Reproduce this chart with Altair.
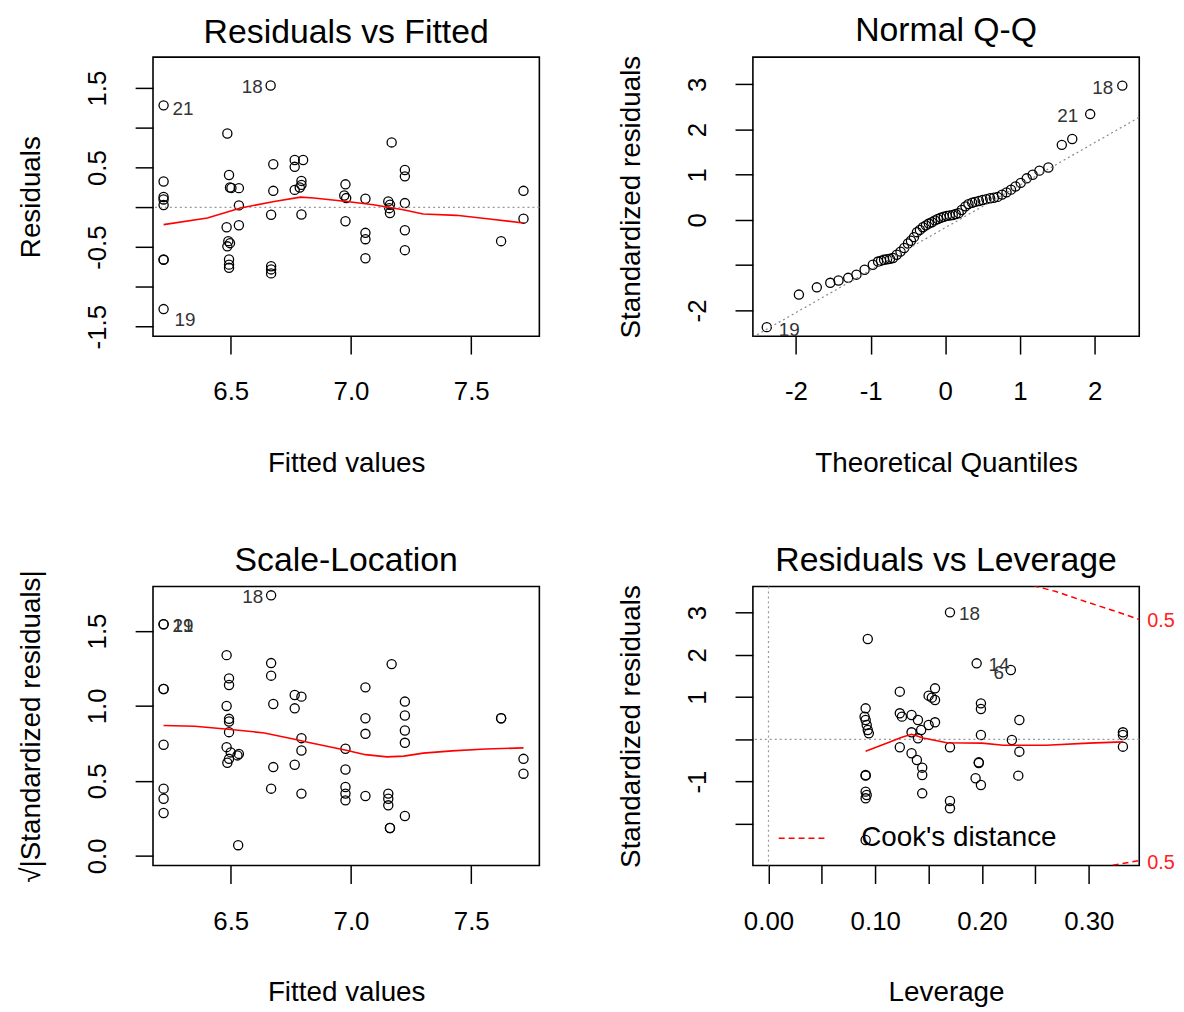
import altair as alt
import pandas as pd

FONT = "Liberation Sans"
W, H = 389, 281
ROWGAP, COLGAP = 252, 215

# ---------------- Panel 1: Residuals vs Fitted ----------------
fitted1 = [6.221, 6.221, 6.221, 6.221, 6.221, 6.221, 6.221, 6.221, 6.666, 6.486,
           6.493, 6.497, 6.503, 6.534, 6.534, 6.483, 6.534, 6.490, 6.497, 6.486,
           6.493, 6.493, 6.493, 6.677, 6.677, 6.668, 6.668, 6.668, 6.668, 6.766,
           6.801, 6.766, 6.794, 6.794, 6.787, 6.766, 6.794, 6.977, 6.972, 6.980,
           6.977, 7.060, 7.060, 7.060, 7.060, 7.169, 7.155, 7.162, 7.159, 7.162,
           7.224, 7.224, 7.224, 7.224, 7.224, 7.624, 7.717, 7.717]
resid1 = [1.283, -1.279, 0.325, 0.13, 0.10, 0.03, -0.654, -0.66, 1.533, 0.929,
          0.408, 0.25, 0.245, 0.242, 0.025, -0.25, -0.225, -0.425, -0.45, -0.49,
          -0.654, -0.72, -0.76, 0.542, 0.208, -0.092, -0.74, -0.78, -0.83, 0.596,
          0.596, 0.51, 0.333, 0.283, 0.25, 0.22, -0.09, 0.29, 0.15, 0.117,
          -0.175, 0.108, -0.32, -0.40, -0.64, 0.817, 0.075, 0.033, -0.01, -0.07,
          0.47, 0.39, 0.054, -0.288, -0.538, -0.425, 0.208, -0.142]
smooth1_x = [6.221, 6.403, 6.541, 6.681, 6.790, 6.845, 6.983, 7.093, 7.217, 7.300, 7.438, 7.576, 7.717]
smooth1_y = [-0.217, -0.133, -0.008, 0.075, 0.129, 0.117, 0.075, 0.033, -0.029, -0.083, -0.100, -0.146, -0.196]
lab1_text = ["21", "19", "18"]
lab1_x = [6.221, 6.221, 6.666]
lab1_y = [1.283, -1.279, 1.533]

# ---------------- Panel 2: Normal Q-Q ----------------
theo2 = [-2.39, -1.96, -1.72, -1.54, -1.43, -1.30, -1.19, -1.08, -0.97, -0.90,
         -0.86, -0.82, -0.78, -0.74, -0.70, -0.65, -0.60, -0.55, -0.50, -0.46,
         -0.42, -0.38, -0.34, -0.30, -0.26, -0.22, -0.18, -0.14, -0.10, -0.06,
         -0.02, 0.02, 0.06, 0.10, 0.14, 0.18, 0.22, 0.27, 0.31, 0.36,
         0.40, 0.45, 0.50, 0.55, 0.60, 0.65, 0.70, 0.76, 0.82, 0.88,
         0.94, 1.01, 1.09, 1.17, 1.26, 1.38, 1.56, 1.70, 1.94, 2.37]
std2 = [-2.37, -1.65, -1.49, -1.39, -1.34, -1.28, -1.21, -1.10, -0.99, -0.92,
        -0.90, -0.88, -0.87, -0.86, -0.84, -0.77, -0.70, -0.62, -0.52, -0.46,
        -0.38, -0.27, -0.22, -0.16, -0.12, -0.08, -0.05, -0.01, 0.02, 0.05,
        0.07, 0.09, 0.10, 0.11, 0.13, 0.15, 0.22, 0.30, 0.35, 0.38,
        0.40, 0.42, 0.44, 0.46, 0.48, 0.49, 0.51, 0.56, 0.61, 0.67,
        0.74, 0.82, 0.92, 1.00, 1.09, 1.16, 1.66, 1.79, 2.34, 2.97]
qqline_x = [-2.576, 2.597]
qqline_y = [-2.59, 2.27]
lab2_text = ["19", "21", "18"]
lab2_x = [-2.39, 1.94, 2.37]
lab2_y = [-2.37, 2.34, 2.97]

# ---------------- Panel 3: Scale-Location ----------------
fitted3 = [6.668, 6.221, 6.221, 6.221, 6.221, 6.221, 6.221, 6.221, 6.221, 6.483,
           6.493, 6.493, 6.483, 6.493, 6.493, 6.493, 6.483, 6.500, 6.528, 6.493,
           6.534, 6.486, 6.531, 6.668, 6.668, 6.677, 6.677, 6.668, 6.766, 6.794,
           6.766, 6.794, 6.794, 6.766, 6.794, 6.977, 6.977, 6.977, 6.977, 6.977,
           7.060, 7.060, 7.060, 7.060, 7.169, 7.155, 7.155, 7.155, 7.162, 7.162,
           7.224, 7.224, 7.224, 7.224, 7.224, 7.624, 7.624, 7.717, 7.717]
sqrt3 = [1.738, 1.545, 1.545, 1.113, 1.113, 0.741, 0.448, 0.381, 0.286, 1.339,
         1.184, 1.140, 1.000, 0.914, 0.896, 0.825, 0.725, 0.690, 0.670, 0.647,
         0.680, 0.621, 0.071, 1.286, 1.202, 1.013, 0.592, 0.448, 1.073, 1.062,
         0.984, 0.785, 0.703, 0.608, 0.415, 0.714, 0.576, 0.459, 0.415, 0.370,
         1.124, 0.918, 0.814, 0.399, 1.279, 0.415, 0.381, 0.337, 0.186, 0.186,
         1.029, 0.936, 0.836, 0.754, 0.266, 0.918, 0.918, 0.647, 0.548]
smooth3_x = [6.221, 6.350, 6.490, 6.640, 6.760, 6.830, 6.980, 7.060, 7.150, 7.220, 7.300, 7.420, 7.560, 7.717]
smooth3_y = [0.870, 0.865, 0.845, 0.820, 0.780, 0.755, 0.705, 0.675, 0.660, 0.665, 0.685, 0.700, 0.713, 0.720]
lab3_text = ["18", "21", "19"]
lab3_x = [6.668, 6.221, 6.221]
lab3_y = [1.738, 1.545, 1.545]

# ---------------- Panel 4: Residuals vs Leverage ----------------
lev4 = [0.170, 0.093, 0.195, 0.227, 0.123, 0.156, 0.150, 0.156, 0.153, 0.091,
        0.090, 0.091, 0.092, 0.093, 0.094, 0.123, 0.125, 0.134, 0.140, 0.143,
        0.150, 0.156, 0.134, 0.140, 0.199, 0.199, 0.199, 0.235, 0.228, 0.235,
        0.332, 0.332, 0.332, 0.123, 0.134, 0.139, 0.144, 0.144, 0.144, 0.170,
        0.170, 0.170, 0.091, 0.091, 0.091, 0.092, 0.091, 0.197, 0.197, 0.194,
        0.199, 0.234, 0.091]
std4 = [3.007, 2.376, 1.800, 1.642, 1.129, 1.208, 1.034, 0.931, 0.987, 0.734,
        0.537, 0.458, 0.339, 0.221, 0.142, 0.616, 0.537, 0.576, 0.458, 0.221,
        0.339, 0.403, 0.166, 0.024, 0.852, 0.718, 0.103, 0.458, -0.016, -0.292,
        0.166, 0.103, -0.174, -0.189, -0.331, -0.489, -0.671, -0.845, -1.279, -0.189,
        -1.460, -1.634, -0.845, -0.860, -1.239, -1.318, -1.397, -0.545, -0.560, -0.923,
        -1.081, -0.860, -2.384]
smooth4_x = [0.091, 0.110, 0.125, 0.134, 0.145, 0.167, 0.200, 0.220, 0.260, 0.300, 0.332]
smooth4_y = [-0.28, -0.10, 0.05, 0.12, 0.03, -0.08, -0.09, -0.14, -0.14, -0.09, -0.06]
cook_x = [0.2479, 0.2693, 0.2973, 0.3253, 0.3473, 0.3225, 0.3473]
cook_y = [3.64, 3.50, 3.26, 3.03, 2.84, -2.98, -2.87]
cook_seg = ["upper", "upper", "upper", "upper", "upper", "lower", "lower"]
cook_lab_text = ["0.5", "0.5"]
cook_lab_x = [0.3473, 0.3473]
cook_lab_y = [2.80, -2.93]
lab4_text = ["18", "14", "6"]
lab4_x = [0.170, 0.195, 0.195]
lab4_y = [3.007, 1.800, 1.800]

# axis tick values / which are labelled
p1_xticks = [6.5, 7.0, 7.5]
p1_yticks = [-1.5, -1.0, -0.5, 0.0, 0.5, 1.0, 1.5]
p1_ylab = [1.5, 0.5, -0.5, -1.5]
p2_xticks = [-2, -1, 0, 1, 2]
p2_yticks = [-2, -1, 0, 1, 2, 3]
p2_ylab = [3, 2, 1, 0, -2]
p3_yticks = [0.0, 0.5, 1.0, 1.5]
p4_xticks = [0.0, 0.05, 0.1, 0.15, 0.2, 0.25, 0.3]
p4_xlab = [0.0, 0.1, 0.2, 0.3]
p4_yticks = [-3, -2, -1, 0, 1, 2, 3]
p4_ylab = [3, 2, 1, -1, -3]


def lab_expr(shown, fmt):
    arr = ",".join(repr(v) for v in shown)
    return ("indexof([%s], datum.value) >= 0 ? replace(format(datum.value, '%s'), '\u2212', '-') : ''"
            % (arr, fmt))


def xaxis(title, values, shown, fmt):
    return alt.Axis(title=title, values=values, labelExpr=lab_expr(shown, fmt),
                    labelBaseline="alphabetic", labelPadding=46,
                    titleBaseline="alphabetic", titleAlign="center",
                    titleX=W / 2, titleY=136)


def yaxis(title, values, shown, fmt):
    return alt.Axis(title=title, values=values, labelExpr=lab_expr(shown, fmt),
                    labelAngle=270, labelAlign="center", labelBaseline="alphabetic",
                    labelPadding=30, titleAngle=270, titleBaseline="alphabetic",
                    titleAlign="center", titleX=-114, titleY=H / 2)


def sc(lo, hi):
    return alt.Scale(domain=[lo, hi], nice=False, zero=False)


def enc(sx, sy, ax, ay):
    return dict(x=alt.X("x:Q", scale=sx, axis=ax), y=alt.Y("y:Q", scale=sy, axis=ay))


def points(xs, ys, P):
    df = pd.DataFrame({"x": xs, "y": ys})
    return alt.Chart(df).mark_point(shape="circle", filled=False, color="black",
                                    size=85, strokeWidth=1.3, opacity=1).encode(**enc(*P))


def line(xs, ys, P, color, dash=None, width=1.6, clip=False):
    df = pd.DataFrame({"x": xs, "y": ys, "o": list(range(len(xs)))})
    kw = dict(color=color, strokeWidth=width, clip=clip)
    if dash:
        kw["strokeDash"] = dash
    return alt.Chart(df).mark_line(**kw).encode(order="o:Q", **enc(*P))


def hrule(v, P):
    df = pd.DataFrame({"y": [v]})
    sx, sy, ax, ay = P
    return alt.Chart(df).mark_rule(color="#999999", strokeDash=[2, 3], strokeWidth=1.2).encode(
        y=alt.Y("y:Q", scale=sy, axis=ay))


def vrule(v, P):
    df = pd.DataFrame({"x": [v]})
    sx, sy, ax, ay = P
    return alt.Chart(df).mark_rule(color="#999999", strokeDash=[2, 3], strokeWidth=1.2).encode(
        x=alt.X("x:Q", scale=sx, axis=ax))


def label(x, y, t, P, dx, dy, align, color="#333333", size=19):
    df = pd.DataFrame({"x": [x], "y": [y], "t": [t]})
    return alt.Chart(df).mark_text(dx=dx, dy=dy, align=align, baseline="middle",
                                   font=FONT, fontSize=size, color=color).encode(
        text="t:N", **enc(*P))


def title(t, dy=0):
    return alt.TitleParams(text=t, font=FONT, fontSize=34, fontWeight="normal",
                           color="black", anchor="middle", frame="group", offset=7, dy=dy)


# ---- panel 1
P1 = (sc(6.177, 7.783), sc(-1.62, 1.89),
      xaxis("Fitted values", p1_xticks, p1_xticks, ".1f"),
      yaxis("Residuals", p1_yticks, p1_ylab, ".1f"))
off1 = [(9, 4, "left"), (11, 11, "left"), (-8, 2, "right")]
p1 = alt.layer(
    points(fitted1, resid1, P1),
    hrule(0, P1),
    line(smooth1_x, smooth1_y, P1, "red"),
    *[label(lab1_x[i], lab1_y[i], lab1_text[i], P1, *off1[i]) for i in range(3)]
).properties(width=W, height=H, title=title("Residuals vs Fitted"))

# ---- panel 2
P2 = (sc(-2.576, 2.597), sc(-2.57, 3.60),
      xaxis("Theoretical Quantiles", p2_xticks, p2_xticks, "d"),
      yaxis("Standardized residuals", p2_yticks, p2_ylab, "d"))
off2 = [(12, 3, "left"), (-12, 2, "right"), (-9, 2, "right")]
p2 = alt.layer(
    points(theo2, std2, P2),
    line(qqline_x, qqline_y, P2, "#888888", dash=[2, 3], width=1.2, clip=True),
    *[label(lab2_x[i], lab2_y[i], lab2_text[i], P2, *off2[i]) for i in range(3)]
).properties(width=W, height=H, title=title("Normal Q-Q"))

# ---- panel 3
P3 = (sc(6.177, 7.783), sc(-0.065, 1.797),
      xaxis("Fitted values", p1_xticks, p1_xticks, ".1f"),
      yaxis("\u221a|Standardized residuals|", p3_yticks, p3_yticks, ".1f"))
off3 = [(-8, 2, "right"), (9, 2, "left"), (9, 2, "left")]
p3 = alt.layer(
    points(fitted3, sqrt3, P3),
    line(smooth3_x, smooth3_y, P3, "red"),
    *[label(lab3_x[i], lab3_y[i], lab3_text[i], P3, *off3[i]) for i in range(3)]
).properties(width=W, height=H, title=title("Scale-Location", dy=15))

# ---- panel 4
P4 = (sc(-0.0146, 0.3473), sc(-2.99, 3.62),
      xaxis("Leverage", p4_xticks, p4_xlab, ".2f"),
      yaxis("Standardized residuals", p4_yticks, p4_ylab, "d"))
cook_df = pd.DataFrame({"x": cook_x, "y": cook_y, "seg": cook_seg,
                        "k": ["Cook's distance"] * len(cook_x),
                        "o": list(range(len(cook_x)))})
cook = alt.Chart(cook_df).mark_line(strokeDash=[6, 4], strokeWidth=1.5, clip=True).encode(
    detail="seg:N", order="o:Q",
    color=alt.Color("k:N", scale=alt.Scale(domain=["Cook's distance"], range=["red"]),
                    legend=alt.Legend(title=None, orient="none",
                                      legendX=W + COLGAP + 25, legendY=H + ROWGAP + 229,
                                      symbolType="stroke", symbolSize=2209,
                                      symbolStrokeWidth=1.5, symbolDash=[6, 4],
                                      labelFont=FONT, labelFontSize=28, labelColor="black",
                                      labelOffset=35, labelLimit=400, padding=0)),
    **enc(*P4))
off4 = [(9, 2, "left"), (12, 2, "left"), (17, 10, "left")]
p4 = alt.layer(
    points(lev4, std4, P4),
    hrule(0, P4),
    vrule(0, P4),
    line(smooth4_x, smooth4_y, P4, "red"),
    cook,
    *[label(lab4_x[i], lab4_y[i], lab4_text[i], P4, *off4[i]) for i in range(3)],
    *[label(cook_lab_x[i], cook_lab_y[i], cook_lab_text[i], P4, 8, 0, "left",
            color="#ff2020", size=20) for i in range(2)]
).properties(width=W, height=H, title=title("Residuals vs Leverage"))

chart = alt.concat(p1, p2, p3, p4, columns=2, spacing={"row": ROWGAP, "column": COLGAP},
                   bounds="flush").properties(
    padding={"left": 9, "top": 2, "right": 0, "bottom": 2}
).configure_view(stroke="black", strokeWidth=1.6).configure_axis(
    domain=False, grid=False, ticks=True, tickColor="black", tickWidth=1.5, tickSize=18,
    labelFont=FONT, labelFontSize=26, labelColor="black", labelOverlap=False,
    labelFlush=False, titleFont=FONT, titleFontSize=28, titleFontWeight="normal",
    titleColor="black"
)

chart.save("out.html", embed_options={"renderer": "svg", "actions": False})
